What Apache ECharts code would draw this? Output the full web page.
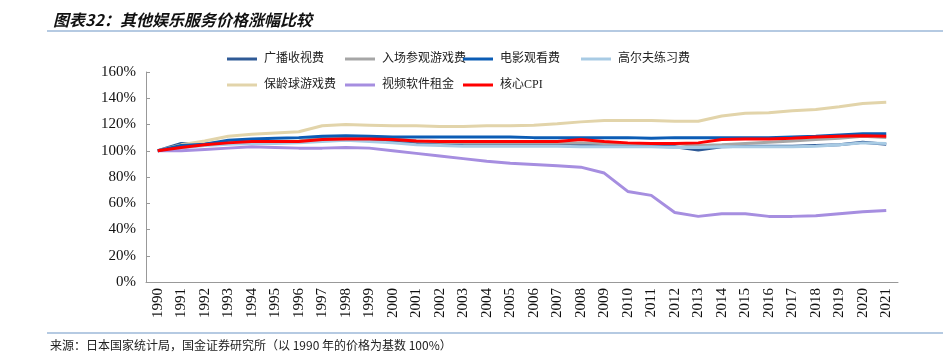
<!DOCTYPE html>
<html><head><meta charset="utf-8">
<script src="https://cdn.jsdelivr.net/npm/echarts@6/dist/echarts.min.js"></script>
<style>html,body{margin:0;padding:0;background:#fff}#c{width:943px;height:358px}</style>
</head><body><div id="c"></div>
<script>
const years = ['1990','1991','1992','1993','1994','1995','1996','1997','1998','1999','2000','2001','2002','2003','2004','2005','2006','2007','2008','2009','2010','2011','2012','2013','2014','2015','2016','2017','2018','2019','2020','2021'];
const yTicks = [0,20,40,60,80,100,120,140,160];
const broadcast = [100,105.5,105,107,107,107,107,108.5,109,108,107,106,105,104.5,104.5,104.5,104,104,104,104,103.5,103.5,103,100.5,103,103.5,103.5,103.5,104,104.5,106.5,105];
const entrance  = [100,103,105,106.5,107,107,107.5,110,110.5,110,109,107.5,106.5,106,106,106,106,106,106,105.5,105.5,105.5,105.5,104,104.5,105.5,106.5,107.5,108.5,109.5,111,110];
const movie     = [100,104,105,108,109,109.5,110,111,111.5,111,110.5,110.5,110.5,110.5,110.5,110.5,110,110,110,110,110,109.5,110,110,110,110,110,110.5,111,112,113,113];
const golf      = [100,102,104,105,105.5,105.5,106,107,108,107,106,104.5,104,103.5,103.5,103.5,103.5,103.5,103,103,103,103,102.5,102.5,103,103,103,103,103.5,104.5,106,105.5];
const bowling   = [100,104.5,107.5,111,112.5,113.5,114.5,119,120,119.5,119,119,118.5,118.5,119,119,119.5,120.5,122,123,123,123,122.5,122.5,126.5,128.5,129,130.5,131.5,133.5,136,137];
const video     = [100,100,101,102,103,102.5,102,102,102.5,102,100,98,96,94,92,90.5,89.5,88.5,87.5,83,69,66,53,50,52,52,50,50,50.5,52,53.5,54.5];
const coreCPI   = [100,102.5,104.5,106,107,107,107,108.5,109,109,108.5,107.5,107,107,107,107,107,107,108.5,107,106,105.5,105.5,106,108.5,109,109,109.5,110.5,111,111.5,111];

const names = ['广播收视费','入场参观游戏费','电影观看费','高尔夫练习费','保龄球游戏费','视频软件租金','核心CPI'];
const datas = [broadcast, entrance, movie, golf, bowling, video, coreCPI];
const colors = ['#2f5a96','#a6a6a6','#0b5cb5','#a8cbe4','#e2d4aa','#a68ee0','#ff0000'];
const legendPos = [[222,48],[340,48],[458,48],[576,48],[222,74],[340,74],[458,74]];

const chart = echarts.init(document.getElementById('c'));
const serif = '"Liberation Serif", "Noto Sans CJK SC", serif';
chart.setOption({
  animation: false,
  title: {
    text: '图表32：其他娱乐服务价格涨幅比较',
    left: 48, top: 7,
    textStyle: {fontSize: 16, fontWeight: 'bold', fontStyle: 'italic', color: '#111', fontFamily: '"Noto Sans CJK SC", sans-serif'}
  },
  graphic: [
    {type: 'line', shape: {x1: 47, y1: 31, x2: 943, y2: 31}, style: {stroke: '#9db8d8', lineWidth: 1.5}},
    {type: 'line', shape: {x1: 47, y1: 333, x2: 943, y2: 333}, style: {stroke: '#9db8d8', lineWidth: 1.5}},
    {type: 'text', left: 50, top: 339, style: {text: '来源：日本国家统计局，国金证券研究所（以 1990 年的价格为基数 100%）', fontSize: 12, fill: '#222', fontFamily: '"Noto Sans CJK SC", sans-serif'}}
  ],
  legend: names.map((n, i) => ({
    data: [n], left: legendPos[i][0], top: legendPos[i][1],
    itemWidth: 30, itemHeight: 3, itemGap: 0,
    icon: 'rect',
    textStyle: {fontSize: 12, color: '#222', fontFamily: serif, padding: [0,0,0,2]},
    selectedMode: false
  })),
  grid: {left: 146, right: 45, top: 72, bottom: 76},
  xAxis: {
    type: 'category', data: years, boundaryGap: true,
    axisLine: {lineStyle: {color: '#999'}},
    axisTick: {inside: true, length: 4, lineStyle: {color: '#999'}},
    axisLabel: {rotate: 90, fontSize: 15, color: '#111', fontFamily: serif, margin: 6}
  },
  yAxis: {
    type: 'value', min: 0, max: 160, interval: 20,
    axisLine: {show: true, lineStyle: {color: '#999'}},
    axisTick: {show: true, inside: true, length: 4, lineStyle: {color: '#999'}},
    splitLine: {show: false},
    axisLabel: {formatter: v => yTicks.includes(v) ? v + '%' : '', fontSize: 15, color: '#111', fontFamily: serif, margin: 10}
  },
  series: names.map((n, i) => ({
    name: n, type: 'line', data: datas[i], symbol: 'none',
    lineStyle: {width: 3, color: colors[i]}, itemStyle: {color: colors[i]},
    z: i === 6 ? 10 : (i === 2 ? 8 : 2)
  }))
});
</script></body></html>
